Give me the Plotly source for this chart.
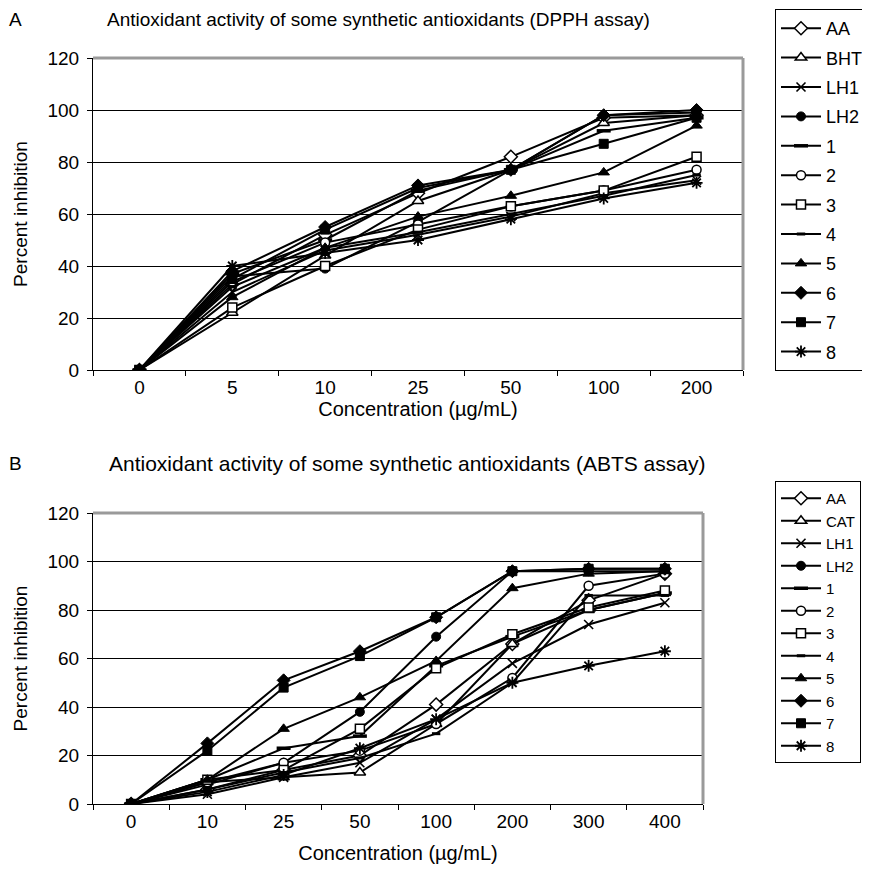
import plotly.graph_objects as go

# ---------------- data ----------------
conc_a = ["0", "5", "10", "25", "50", "100", "200"]
conc_b = ["0", "10", "25", "50", "100", "200", "300", "400"]

names_a = ["AA", "BHT", "LH1", "LH2", "1", "2", "3", "4", "5", "6", "7", "8"]
names_b = ["AA", "CAT", "LH1", "LH2", "1", "2", "3", "4", "5", "6", "7", "8"]

# Panel A: DPPH assay (% inhibition)
dpph_AA = [0, 33, 52, 68, 82, 97, 98]
dpph_BHT = [0, 22, 44, 65, 77, 95, 98]
dpph_LH1 = [0, 30, 46, 52, 59, 68, 73]
dpph_LH2 = [0, 36, 39, 57, 77, 98, 99]
dpph_1 = [0, 37, 50, 69, 77, 92, 97]
dpph_2 = [0, 34, 49, 56, 63, 69, 77]
dpph_3 = [0, 24, 40, 54, 63, 69, 82]
dpph_4 = [0, 32, 47, 53, 60, 67, 75]
dpph_5 = [0, 28, 47, 59, 67, 76, 94]
dpph_6 = [0, 38, 55, 71, 77, 98, 100]
dpph_7 = [0, 35, 54, 70, 77, 87, 97]
dpph_8 = [0, 40, 45, 50, 58, 66, 72]

# Panel B: ABTS assay (% inhibition)
abts_AA = [0, 6, 14, 20, 41, 66, 84, 95]
abts_CAT = [0, 9, 11, 13, 33, 66, 80, 87]
abts_LH1 = [0, 4, 11, 17, 35, 58, 74, 83]
abts_LH2 = [0, 8, 17, 38, 69, 96, 96, 96]
abts_1 = [0, 10, 23, 28, 57, 69, 80, 87]
abts_2 = [0, 9, 17, 22, 33, 52, 90, 95]
abts_3 = [0, 10, 14, 31, 56, 70, 81, 88]
abts_4 = [0, 6, 13, 19, 29, 50, 86, 86]
abts_5 = [0, 10, 31, 44, 59, 89, 95, 96]
abts_6 = [0, 25, 51, 63, 77, 96, 97, 97]
abts_7 = [0, 22, 48, 61, 77, 96, 97, 97]
abts_8 = [0, 5, 12, 23, 35, 50, 57, 63]

series_a = [dpph_AA, dpph_BHT, dpph_LH1, dpph_LH2, dpph_1, dpph_2,
            dpph_3, dpph_4, dpph_5, dpph_6, dpph_7, dpph_8]
series_b = [abts_AA, abts_CAT, abts_LH1, abts_LH2, abts_1, abts_2,
            abts_3, abts_4, abts_5, abts_6, abts_7, abts_8]

# ---------------- styles ----------------
W = "white"
K = "black"
marker_styles = [
    dict(symbol="diamond", size=10, color=W, line=dict(color=K, width=1.5)),
    dict(symbol="triangle-up", size=10, color=W, line=dict(color=K, width=1.5)),
    dict(symbol="x-thin", size=9, color=K, line=dict(color=K, width=1.6)),
    dict(symbol="circle", size=9, color=K, line=dict(color=K, width=1)),
    dict(symbol="line-ew", size=10, color=K, line=dict(color=K, width=3.5)),
    dict(symbol="circle", size=9, color=W, line=dict(color=K, width=1.5)),
    dict(symbol="square", size=9, color=W, line=dict(color=K, width=1.5)),
    dict(symbol="line-ew", size=6, color=K, line=dict(color=K, width=3)),
    dict(symbol="triangle-up", size=10, color=K, line=dict(color=K, width=1)),
    dict(symbol="diamond", size=10, color=K, line=dict(color=K, width=1)),
    dict(symbol="square", size=9, color=K, line=dict(color=K, width=1)),
    dict(symbol="asterisk", size=10, color=K, line=dict(color=K, width=1.8)),
]

FONT = "Liberation Sans, Arial, sans-serif"
OFF = 8                 # page body margin of the html page
FW = 870 - OFF
FH = 882 - OFF


def px(v):
    return (v - OFF) / FW


def py(v):
    return 1 - (v - OFF) / FH


fig = go.Figure()

for i, (nm, vals) in enumerate(zip(names_a, series_a)):
    fig.add_trace(go.Scatter(
        x=conc_a, y=vals, name=nm, mode="lines+markers",
        line=dict(color=K, width=2), marker=marker_styles[i],
        xaxis="x", yaxis="y", legend="legend", legendgroup="a" + str(i),
    ))
for i, (nm, vals) in enumerate(zip(names_b, series_b)):
    fig.add_trace(go.Scatter(
        x=conc_b, y=vals, name=nm, mode="lines+markers",
        line=dict(color=K, width=2), marker=marker_styles[i],
        xaxis="x2", yaxis="y2", legend="legend2",
    ))

# plot area geometry (page pixels)
ax_l, ax_r, ay_t, ay_b = 93, 743, 58, 370
bx_l, bx_r, by_t, by_b = 93, 703, 513, 804

axis_common = dict(
    showline=True, linecolor=K, linewidth=1, ticks="outside", ticklen=5,
    tickcolor=K, tickfont=dict(family=FONT, size=19, color=K),
)
ytick_extra = dict(ticklabelstandoff=4)

fig.update_layout(
    width=FW, height=FH,
    margin=dict(l=0, r=0, t=0, b=0, autoexpand=False),
    paper_bgcolor=W, plot_bgcolor=W,
    font=dict(family=FONT, size=18, color=K),
    xaxis=dict(
        domain=[px(ax_l), px(ax_r)], anchor="y", type="category",
        categoryorder="array", categoryarray=conc_a, range=[-0.5, 6.5],
        tickson="boundaries", showgrid=False,
        title=dict(text="Concentration (µg/mL)", font=dict(family=FONT, size=20), standoff=2),
        **axis_common,
    ),
    yaxis=dict(
        domain=[py(ay_b), py(ay_t)], anchor="x", range=[0, 120], dtick=20,
        showgrid=True, gridcolor=K, gridwidth=1, zeroline=False,
        title=dict(text="Percent inhibition", font=dict(family=FONT, size=19), standoff=14),
        **axis_common, **ytick_extra,
    ),
    xaxis2=dict(
        domain=[px(bx_l), px(bx_r)], anchor="y2", type="category",
        categoryorder="array", categoryarray=conc_b, range=[-0.5, 7.5],
        tickson="boundaries", showgrid=False,
        title=dict(text="Concentration (µg/mL)", font=dict(family=FONT, size=20), standoff=15),
        **axis_common,
    ),
    yaxis2=dict(
        domain=[py(by_b), py(by_t)], anchor="x2", range=[0, 120], dtick=20,
        showgrid=True, gridcolor=K, gridwidth=1, zeroline=False,
        title=dict(text="Percent inhibition", font=dict(family=FONT, size=19), standoff=14),
        **axis_common, **ytick_extra,
    ),
    legend=dict(
        x=px(775), y=py(9), xanchor="left", yanchor="top",
        bordercolor=K, borderwidth=1, bgcolor=W,
        font=dict(family=FONT, size=18, color=K),
        traceorder="grouped", tracegroupgap=3, itemwidth=40,
    ),
    legend2=dict(
        x=px(775), y=py(481), xanchor="left", yanchor="top",
        bordercolor=K, borderwidth=1, bgcolor=W,
        font=dict(family=FONT, size=15, color=K),
        itemwidth=40,
    ),
    showlegend=True,
)

# grey top / right plot-area border
for xr, yr in (("x domain", "y domain"), ("x2 domain", "y2 domain")):
    fig.add_shape(type="line", xref=xr, yref=yr, x0=0, x1=1, y0=1, y1=1,
                  line=dict(color="#9a9a9a", width=3), layer="above")
    fig.add_shape(type="line", xref=xr, yref=yr, x0=1, x1=1, y0=0, y1=1,
                  line=dict(color="#9a9a9a", width=3), layer="above")

annots = [
    dict(text="A", x=px(15), y=py(20), xanchor="center", size=19),
    dict(text="B", x=px(15), y=py(463), xanchor="center", size=19),
    dict(text="Antioxidant activity of some synthetic antioxidants (DPPH assay)",
         x=px(105), y=py(20), xanchor="left", size=19),
    dict(text="Antioxidant activity of some synthetic antioxidants (ABTS assay)",
         x=px(107), y=py(463), xanchor="left", size=21),
]
for a in annots:
    sz = a.pop("size")
    fig.add_annotation(xref="paper", yref="paper", showarrow=False, yanchor="middle",
                       font=dict(family=FONT, size=sz, color=K), **a)

fig.write_html("out.html")
